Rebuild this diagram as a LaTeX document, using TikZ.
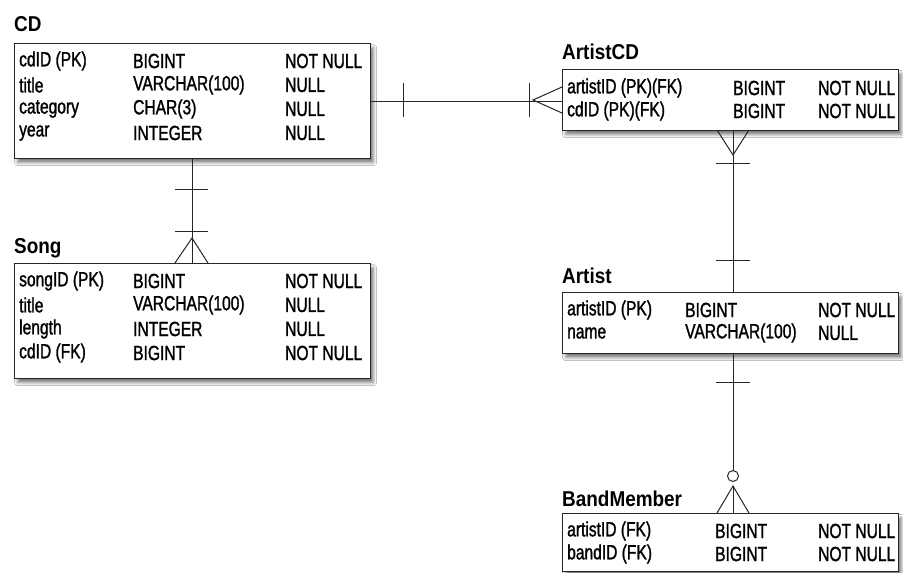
\documentclass[tikz,border=0pt]{standalone}
\usepackage{fontspec}
\setmainfont{Liberation Sans}[FakeStretch=0.77]
\newfontfamily\cellfont{Liberation Sans}[FakeStretch=0.76, FakeBold=1.3]
\newfontfamily\titlefont{Liberation Sans Bold}[FakeStretch=0.88]
\usetikzlibrary{shadows.blur}
\begin{document}
\begin{tikzpicture}[x=1pt,y=-1pt,
  tbl/.style={draw=black!85, line width=1.2pt, fill=white, anchor=north west, inner sep=0pt,
    blur shadow={shadow xshift=3pt, shadow yshift=-4pt, shadow blur radius=3pt, shadow opacity=50}},
  ttl/.style={anchor=west, inner sep=0pt, font=\fontsize{21.5}{22}\titlefont},
  cell/.style={anchor=west, inner sep=0pt, font=\fontsize{20.5}{21}\cellfont},
  rel/.style={draw=black!85, line width=1pt},
]
\useasboundingbox (0,0) rectangle (903,573);
\fill[white] (0,0) rectangle (903,573);

% ---------- CD ----------
\node[tbl, minimum width=356pt, minimum height=115pt] (cd) at (14,43) {};
\node[ttl] (cdT) at (14,24) {CD};
\node[cell] (cd1a) at (19,61)  {cdID (PK)};
\node[cell] (cd1b) at (133,61) {BIGINT};
\node[cell] (cd1c) at (285,61) {NOT NULL};
\node[cell] (cd2a) at (19,85)  {title};
\node[cell] (cd2b) at (133,85) {VARCHAR(100)};
\node[cell] (cd2c) at (285,85) {NULL};
\node[cell] (cd3a) at (19,109)  {category};
\node[cell] (cd3b) at (133,109) {CHAR(3)};
\node[cell] (cd3c) at (285,109) {NULL};
\node[cell] (cd4a) at (19,133)  {year};
\node[cell] (cd4b) at (133,133) {INTEGER};
\node[cell] (cd4c) at (285,133) {NULL};

% ---------- Song ----------
\node[tbl, minimum width=356pt, minimum height=115pt] (song) at (14,263) {};
\node[ttl] (songT) at (14,248) {Song};
\node[cell] (s1a) at (19,281)  {songID (PK)};
\node[cell] (s1b) at (133,281) {BIGINT};
\node[cell] (s1c) at (285,281) {NOT NULL};
\node[cell] (s2a) at (19,305)  {title};
\node[cell] (s2b) at (133,305) {VARCHAR(100)};
\node[cell] (s2c) at (285,305) {NULL};
\node[cell] (s3a) at (19,329)  {length};
\node[cell] (s3b) at (133,329) {INTEGER};
\node[cell] (s3c) at (285,329) {NULL};
\node[cell] (s4a) at (19,353)  {cdID (FK)};
\node[cell] (s4b) at (133,353) {BIGINT};
\node[cell] (s4c) at (285,353) {NOT NULL};

% ---------- ArtistCD ----------
\node[tbl, minimum width=336pt, minimum height=61pt] (acd) at (562,69) {};
\node[ttl] (acdT) at (562,52) {ArtistCD};
\node[cell] (a1a) at (567,88) {artistID (PK)(FK)};
\node[cell] (a1b) at (733,88) {BIGINT};
\node[cell] (a1c) at (818,88) {NOT NULL};
\node[cell] (a2a) at (567,111) {cdID (PK)(FK)};
\node[cell] (a2b) at (733,111) {BIGINT};
\node[cell] (a2c) at (818,111) {NOT NULL};

% ---------- Artist ----------
\node[tbl, minimum width=336pt, minimum height=61pt] (art) at (562,292) {};
\node[ttl] (artT) at (562,276) {Artist};
\node[cell] (r1a) at (567,310) {artistID (PK)};
\node[cell] (r1b) at (685,310) {BIGINT};
\node[cell] (r1c) at (818,310) {NOT NULL};
\node[cell] (r2a) at (567,333) {name};
\node[cell] (r2b) at (685,333) {VARCHAR(100)};
\node[cell] (r2c) at (818,333) {NULL};

% ---------- BandMember ----------
\node[tbl, minimum width=336pt, minimum height=58pt] (bm) at (562,513) {};
\node[ttl] (bmT) at (562,499) {BandMember};
\node[cell] (b1a) at (567,531) {artistID (FK)};
\node[cell] (b1b) at (715,531) {BIGINT};
\node[cell] (b1c) at (818,531) {NOT NULL};
\node[cell] (b2a) at (567,554) {bandID (FK)};
\node[cell] (b2b) at (715,554) {BIGINT};
\node[cell] (b2c) at (818,554) {NOT NULL};

% ---------- CD -- Song ----------
\draw[rel] (cd.south) -- (song.north);
\draw[rel] (175,189) -- (208,189);
\draw[rel] (175,231) -- (208,231);
\draw[rel] (175,263) -- (192,238) -- (208,263);

% ---------- CD -- ArtistCD ----------
\draw[rel] (cd.east) -- (cd.east -| acd.west);
\draw[rel] (403,83) -- (403,117);
\draw[rel] (529,83) -- (529,117);
\draw[rel] (562,87) -- (533,100) -- (562,113);

% ---------- ArtistCD -- Artist ----------
\coordinate (lx1) at (733,130);
\draw[rel] (lx1) -- (lx1 |- art.north);
\draw[rel] (717,130) -- (733,155) -- (749,130);
\draw[rel] (716,163) -- (750,163);
\draw[rel] (716,260) -- (750,260);

% ---------- Artist -- BandMember ----------
\coordinate (lx2) at (733,353);
\node[circle, draw=black!85, line width=1pt, fill=white, minimum size=11pt, inner sep=0pt] (opt) at (733,476) {};
\draw[rel] (lx2) -- (opt.north);
\draw[rel] (716,382) -- (750,382);
\draw[rel] (733,486) -- (733,513);
\draw[rel] (717,513) -- (733,486) -- (749,513);
\end{tikzpicture}
\end{document}
